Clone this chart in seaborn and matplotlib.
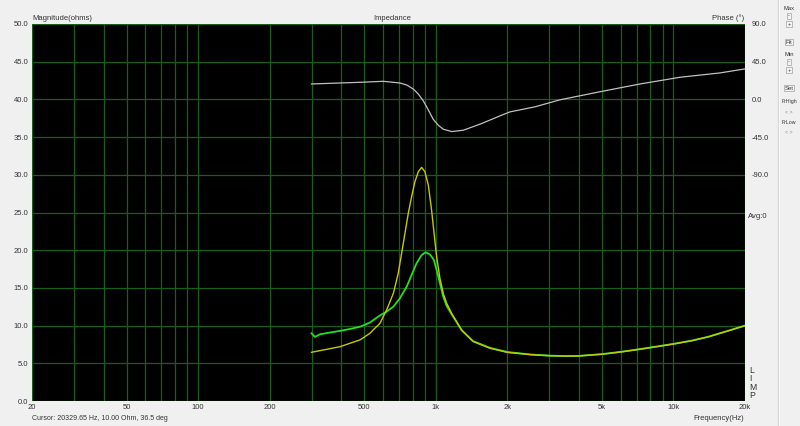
import matplotlib
matplotlib.use("Agg")
import matplotlib.pyplot as plt
import seaborn as sns
import pandas as pd
from matplotlib.ticker import FixedLocator, FuncFormatter, NullFormatter

# impedance trace 1 (yellow)
freq_yellow = [300, 395, 435, 480, 528, 582, 621, 663, 695, 730, 766, 791, 817, 844, 872,
               900, 930, 960, 982, 1008, 1041, 1075, 1111, 1166, 1224, 1284, 1433, 1690,
               2000, 2500, 3000, 3500, 4000, 5000, 6000, 7200, 8500, 10000, 12000, 14000,
               17000, 20000]
imp_yellow = [6.46, 7.2, 7.65, 8.1, 8.98, 10.3, 12.07, 14.28, 16.93, 20.91, 24.89, 27.1,
              29.09, 30.41, 30.99, 30.41, 28.65, 25.33, 22.45, 19.14, 16.27, 14.28, 12.96,
              11.63, 10.52, 9.42, 7.9, 7.0, 6.45, 6.15, 6.0, 5.95, 5.97, 6.2, 6.5, 6.85, 7.2,
              7.55, 8.0, 8.5, 9.3, 10.0]

# impedance trace 2 (green)
freq_green = [300, 310, 326, 395, 435, 480, 528, 582, 621, 663, 706, 754, 791, 830, 872,
              906, 945, 982, 1008, 1041, 1075, 1111, 1166, 1224, 1284, 1433, 1690, 2000,
              2500, 3000, 3500, 4000, 5000, 6000, 7200, 8500, 10000, 12000, 14000, 17000, 20000]
imp_green = [8.98, 8.5, 8.85, 9.3, 9.55, 9.85, 10.4, 11.35, 11.85, 12.51, 13.62, 15.16, 16.71,
             18.26, 19.36, 19.72, 19.45, 18.7, 17.37, 15.61, 13.83, 12.6, 11.5, 10.45, 9.4,
             7.95, 7.05, 6.5, 6.17, 6.02, 5.96, 5.98, 6.22, 6.52, 6.88, 7.23, 7.58, 8.03,
             8.52, 9.32, 10.0]

# phase (degrees)
freq_phase = [300, 395, 480, 601, 706, 754, 804, 844, 886, 930, 975, 1024, 1075, 1166, 1305,
              1534, 1862, 2052, 2612, 3330, 4900, 7230, 10640, 15690, 20000]
phase_deg = [18.4, 19.6, 20.4, 21.6, 19.6, 17.2, 12.4, 6.4, -1.7, -12.5, -23.6, -30.8,
             -35.6, -38.4, -36.8, -29.6, -19.7, -14.9, -8.9, -0.5, 9.1, 18.4, 26.4, 31.6, 36.4]

grid_freqs = [20, 30, 40, 50, 60, 70, 80, 90, 100, 200, 300, 400, 500, 600, 700, 800, 900,
              1000, 2000, 3000, 4000, 5000, 6000, 7000, 8000, 9000, 10000, 20000]
label_freqs = {20: "20", 50: "50", 100: "100", 200: "200", 500: "500",
               1000: "1k", 2000: "2k", 5000: "5k", 10000: "10k", 20000: "20k"}
mag_ticks = [0, 5, 10, 15, 20, 25, 30, 35, 40, 45, 50]
phase_ticks = [90, 45, 0, -45, -90]

plt.rcParams['font.family'] = ['Liberation Sans', 'DejaVu Sans']
BG = "#f0f0f0"
GRID = "#1a5e1a"
FS = 5.5
tc = "#333333"

fig = plt.figure(figsize=(8, 4.26), dpi=100, facecolor=BG)
ax = fig.add_axes([32 / 800, 25 / 426, 713 / 800, 377 / 426])
ax.set_facecolor("black")

df_y = pd.DataFrame({"f": freq_yellow, "z": imp_yellow})
df_g = pd.DataFrame({"f": freq_green, "z": imp_green})
# phase drawn on the magnitude scale: 0 deg -> 40 ohm, 9 deg per ohm
df_p = pd.DataFrame({"f": freq_phase, "z": [40 + p / 9 for p in phase_deg]})

ax.set_xscale("log")
sns.lineplot(data=df_g, x="f", y="z", ax=ax, color="#22e022", lw=1.3, zorder=3)
sns.lineplot(data=df_y, x="f", y="z", ax=ax, color="#c8c800", lw=1.0, zorder=4)
sns.lineplot(data=df_p, x="f", y="z", ax=ax, color="#c0c0c0", lw=0.9, zorder=4)

ax.set_xlim(20, 20000)
ax.set_ylim(0, 50)
ax.xaxis.set_major_locator(FixedLocator(grid_freqs))
ax.xaxis.set_minor_formatter(NullFormatter())
ax.xaxis.set_major_formatter(FuncFormatter(lambda v, p: label_freqs.get(int(round(v)), "")))
ax.yaxis.set_major_locator(FixedLocator(mag_ticks))
ax.yaxis.set_major_formatter(FuncFormatter(lambda v, p: f"{v:.1f}"))
ax.grid(True, which="major", axis="both", color=GRID, lw=0.9)
ax.tick_params(length=0, labelsize=FS, colors=tc)
ax.tick_params(axis="x", pad=2)
ax.tick_params(axis="y", pad=2.5)
ax.tick_params(axis="x", which="minor", length=0)
ax.set_xlabel("")
ax.set_ylabel("")
for s in ax.spines.values():
    s.set_visible(False)

ax2 = ax.twinx()
ax2.set_ylim(-360, 90)
ax2.grid(False)
ax2.yaxis.set_major_locator(FixedLocator(phase_ticks))
ax2.yaxis.set_major_formatter(FuncFormatter(lambda v, p: f"{v:.1f}"))
ax2.tick_params(length=0, labelsize=FS, colors=tc, pad=5)
for s in ax2.spines.values():
    s.set_visible(False)

fig.text(32 / 800, 1 - 18 / 426, "Magnitude(ohms)", fontsize=FS, color=tc, va="center")
fig.text(392 / 800, 1 - 18 / 426, "Impedance", fontsize=FS, color=tc, va="center", ha="center")
fig.text(744 / 800, 1 - 18 / 426, "Phase (°)", fontsize=FS, color=tc, va="center", ha="right")
fig.text(748 / 800, 1 - 216 / 426, "Avg:0", fontsize=FS, color=tc, va="center")
fig.text(749 / 800, 1 - 383 / 426, "L\nI\nM\nP", fontsize=6.2, color=tc, va="center",
         linespacing=0.92)
fig.text(744 / 800, 1 - 418 / 426, "Frequency(Hz)", fontsize=FS, color=tc, va="center", ha="right")
fig.text(32 / 800, 1 - 419 / 426, "Cursor: 20329.65 Hz, 10.00 Ohm, 36.5 deg",
         fontsize=5.0, color=tc, va="center")

# right side control panel
fig.add_artist(plt.Line2D([778 / 800, 778 / 800], [0, 1], color="#d8d8d8", lw=1))
fig.add_artist(plt.Line2D([778.8 / 800, 778.8 / 800], [0, 1], color="#fafafa", lw=0.6))
small = 4.2
btn = dict(boxstyle="square,pad=0.15", fc="#f4f4f4", ec="#a0a0a0", lw=0.5)
cx = 789 / 800
fig.text(cx, 1 - 8 / 426, "Max", fontsize=small, color=tc, ha="center", va="center")
fig.text(cx, 1 - 16 / 426, "-", fontsize=small, color=tc, ha="center", va="center", bbox=btn)
fig.text(cx, 1 - 24 / 426, "+", fontsize=small, color=tc, ha="center", va="center", bbox=btn)
fig.text(cx, 1 - 42 / 426, "Fit", fontsize=small, color=tc, ha="center", va="center", bbox=btn)
fig.text(cx, 1 - 55 / 426, "Min", fontsize=small, color=tc, ha="center", va="center")
fig.text(cx, 1 - 62 / 426, "-", fontsize=small, color=tc, ha="center", va="center", bbox=btn)
fig.text(cx, 1 - 70 / 426, "+", fontsize=small, color=tc, ha="center", va="center", bbox=btn)
fig.text(cx, 1 - 88 / 426, "Set", fontsize=small, color=tc, ha="center", va="center", bbox=btn)
fig.text(cx, 1 - 101 / 426, "FrHigh", fontsize=small - 0.4, color=tc, ha="center", va="center")
fig.text(cx, 1 - 112 / 426, "< >", fontsize=small - 0.4, color="#888888", ha="center", va="center")
fig.text(cx, 1 - 123 / 426, "FrLow", fontsize=small - 0.4, color=tc, ha="center", va="center")
fig.text(cx, 1 - 132 / 426, "< >", fontsize=small - 0.4, color="#888888", ha="center", va="center")

fig.savefig("out.png", dpi=100, facecolor=BG)
